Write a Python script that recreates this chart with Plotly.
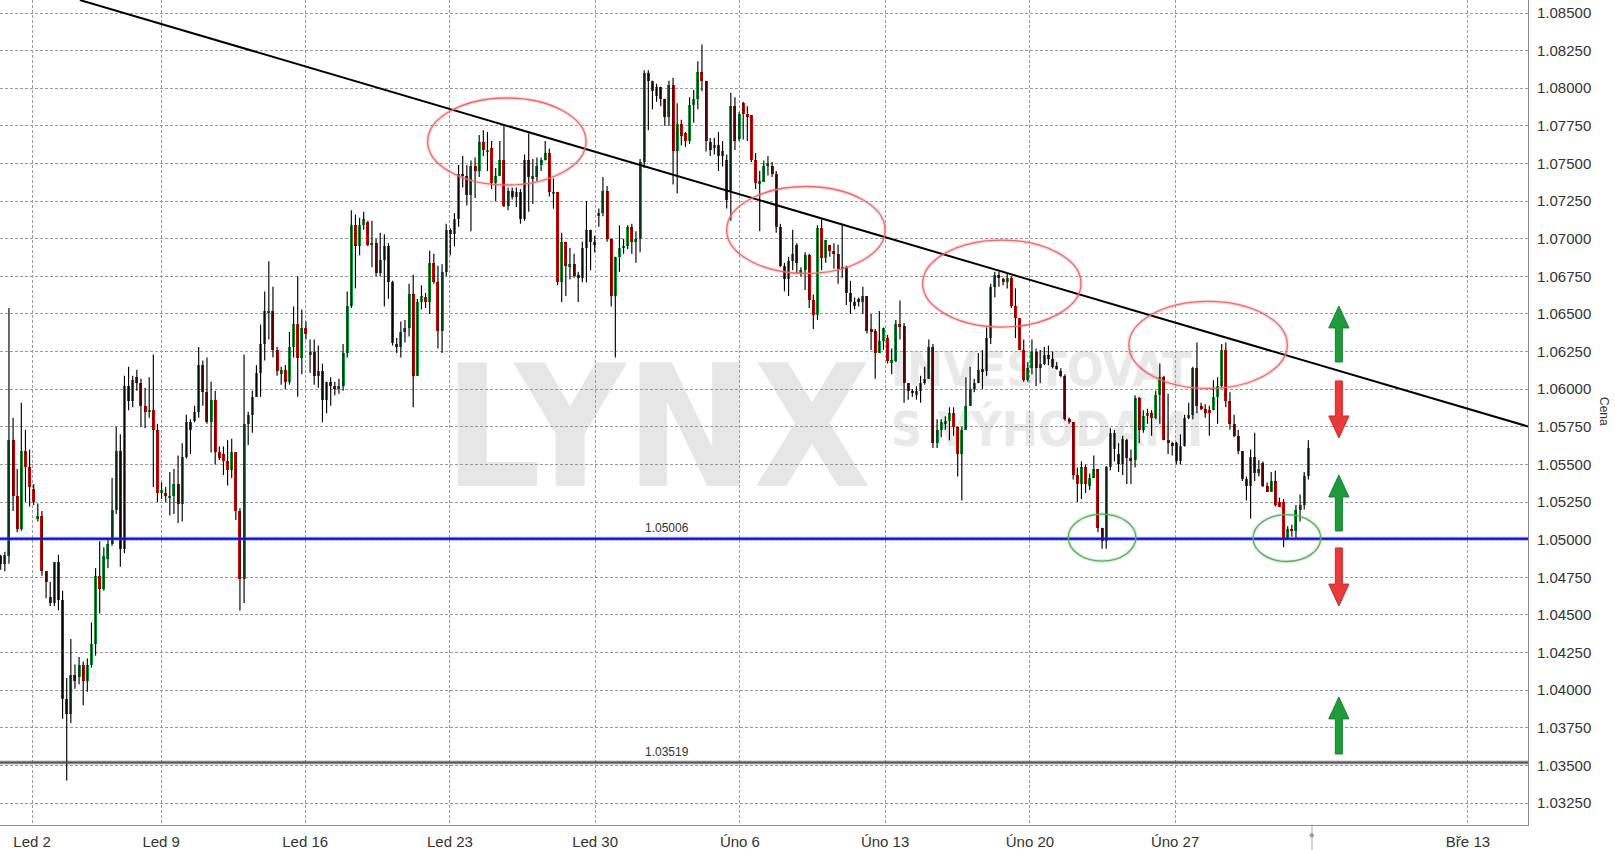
import plotly.graph_objects as go

# ---------------- data (4h EUR/USD candles) ----------------
opens = [
    1.0489, 1.0484, 1.0489, 1.0566, 1.0529, 1.0507, 1.0559, 1.0548, 1.0534, 1.0514,
    1.0516, 1.0479, 1.0462, 1.0458, 1.0485, 1.0460, 1.0394, 1.0384, 1.0410, 1.0409,
    1.0417, 1.0406, 1.0417, 1.0431, 1.0476, 1.0467, 1.0487, 1.0497, 1.0520, 1.0559,
    1.0494, 1.0602, 1.0592, 1.0608, 1.0604, 1.0589, 1.0585, 1.0586, 1.0573, 1.0531,
    1.0531, 1.0528, 1.0529, 1.0537, 1.0524, 1.0555, 1.0578, 1.0579, 1.0585, 1.0616,
    1.0598, 1.0578, 1.0593, 1.0558, 1.0557, 1.0552, 1.0546, 1.0558, 1.0519, 1.0474,
    1.0577, 1.0583, 1.0595, 1.0611, 1.0630, 1.0651, 1.0652, 1.0626, 1.0610, 1.0613,
    1.0605, 1.0628, 1.0643, 1.0621, 1.0641, 1.0623, 1.0625, 1.0609, 1.0612, 1.0593,
    1.0605, 1.0602, 1.0600, 1.0602, 1.0624, 1.0655, 1.0709, 1.0695, 1.0709, 1.0711,
    1.0696, 1.0697, 1.0677, 1.0686, 1.0695, 1.0671, 1.0630, 1.0628, 1.0638, 1.0641,
    1.0663, 1.0609, 1.0658, 1.0661, 1.0658, 1.0684, 1.0671, 1.0639, 1.0678, 1.0706,
    1.0703, 1.0713, 1.0743, 1.0742, 1.0729, 1.0748, 1.0745, 1.0764, 1.0758, 1.0760,
    1.0737, 1.0742, 1.0752, 1.0722, 1.0732, 1.0728, 1.0731, 1.0713, 1.0752, 1.0740,
    1.0741, 1.0749, 1.0752, 1.0757, 1.0730, 1.0731, 1.0671, 1.0698, 1.0681, 1.0683,
    1.0676, 1.0674, 1.0694, 1.0706, 1.0698, 1.0715, 1.0717, 1.0732, 1.0700, 1.0662,
    1.0688, 1.0694, 1.0695, 1.0708, 1.0698, 1.0700, 1.0751, 1.0810, 1.0805, 1.0795,
    1.0801, 1.0793, 1.0781, 1.0802, 1.0758, 1.0776, 1.0770, 1.0765, 1.0789, 1.0793,
    1.0811, 1.0805, 1.0764, 1.0761, 1.0762, 1.0755, 1.0752, 1.0732, 1.0788, 1.0766,
    1.0790, 1.0783, 1.0782, 1.0752, 1.0737, 1.0738, 1.0748, 1.0748, 1.0743, 1.0708,
    1.0682, 1.0673, 1.0685, 1.0696, 1.0677, 1.0679, 1.0689, 1.0659, 1.0649, 1.0707,
    1.0687, 1.0696, 1.0692, 1.0690, 1.0680, 1.0681, 1.0664, 1.0658, 1.0660, 1.0658,
    1.0662, 1.0640, 1.0639, 1.0624, 1.0632, 1.0634, 1.0618, 1.0619, 1.0643, 1.0642,
    1.0604, 1.0599, 1.0596, 1.0599, 1.0604, 1.0607, 1.0628, 1.0564, 1.0573, 1.0577,
    1.0579, 1.0584, 1.0575, 1.0557, 1.0573, 1.0589, 1.0600, 1.0604, 1.0613, 1.0612,
    1.0634, 1.0668, 1.0676, 1.0673, 1.0671, 1.0674, 1.0655, 1.0647, 1.0626, 1.0606,
    1.0614, 1.0625, 1.0614, 1.0617, 1.0623, 1.0620, 1.0615, 1.0612, 1.0609, 1.0580,
    1.0578, 1.0543, 1.0537, 1.0548, 1.0536, 1.0541, 1.0547, 1.0508, 1.0499, 1.0548,
    1.0560, 1.0557, 1.0550, 1.0566, 1.0554, 1.0553, 1.0594, 1.0573, 1.0582, 1.0584,
    1.0581, 1.0596, 1.0608, 1.0566, 1.0564, 1.0564, 1.0552, 1.0562, 1.0581, 1.0583,
    1.0614, 1.0589, 1.0587, 1.0586, 1.0586, 1.0595, 1.0602, 1.0626, 1.0592, 1.0577,
    1.0569, 1.0559, 1.0540, 1.0536, 1.0555, 1.0544, 1.0551, 1.0536, 1.0532, 1.0539,
    1.0525, 1.0525, 1.0501, 1.0507, 1.0506, 1.0520, 1.0523, 1.0542,
]
highs = [
    1.0490, 1.0492, 1.0654, 1.0581, 1.0547, 1.0591, 1.0573, 1.0560, 1.0537, 1.0524,
    1.0519, 1.0479, 1.0472, 1.0485, 1.0490, 1.0466, 1.0408, 1.0434, 1.0417, 1.0422,
    1.0419, 1.0421, 1.0445, 1.0481, 1.0499, 1.0495, 1.0501, 1.0541, 1.0575, 1.0570,
    1.0609, 1.0615, 1.0609, 1.0613, 1.0607, 1.0601, 1.0608, 1.0623, 1.0577, 1.0538,
    1.0535, 1.0545, 1.0547, 1.0556, 1.0564, 1.0583, 1.0580, 1.0589, 1.0628, 1.0619,
    1.0621, 1.0605, 1.0599, 1.0562, 1.0562, 1.0566, 1.0567, 1.0558, 1.0521, 1.0623,
    1.0585, 1.0599, 1.0616, 1.0643, 1.0665, 1.0685, 1.0668, 1.0628, 1.0615, 1.0616,
    1.0638, 1.0655, 1.0675, 1.0653, 1.0645, 1.0633, 1.0633, 1.0629, 1.0617, 1.0605,
    1.0608, 1.0605, 1.0607, 1.0630, 1.0665, 1.0719, 1.0716, 1.0714, 1.0718, 1.0712,
    1.0712, 1.0700, 1.0704, 1.0703, 1.0697, 1.0672, 1.0634, 1.0645, 1.0646, 1.0670,
    1.0676, 1.0660, 1.0669, 1.0664, 1.0692, 1.0690, 1.0682, 1.0683, 1.0710, 1.0707,
    1.0717, 1.0749, 1.0755, 1.0749, 1.0752, 1.0754, 1.0769, 1.0772, 1.0771, 1.0765,
    1.0747, 1.0765, 1.0775, 1.0734, 1.0734, 1.0734, 1.0733, 1.0756, 1.0770, 1.0753,
    1.0754, 1.0754, 1.0765, 1.0760, 1.0740, 1.0731, 1.0704, 1.0698, 1.0694, 1.0690,
    1.0678, 1.0698, 1.0725, 1.0706, 1.0702, 1.0720, 1.0741, 1.0735, 1.0700, 1.0688,
    1.0709, 1.0700, 1.0709, 1.0710, 1.0705, 1.0753, 1.0812, 1.0812, 1.0805, 1.0803,
    1.0801, 1.0793, 1.0805, 1.0807, 1.0790, 1.0779, 1.0771, 1.0794, 1.0799, 1.0818,
    1.0829, 1.0805, 1.0767, 1.0767, 1.0771, 1.0765, 1.0756, 1.0797, 1.0794, 1.0784,
    1.0791, 1.0788, 1.0782, 1.0757, 1.0745, 1.0752, 1.0755, 1.0751, 1.0745, 1.0710,
    1.0684, 1.0688, 1.0706, 1.0697, 1.0681, 1.0691, 1.0690, 1.0663, 1.0709, 1.0713,
    1.0699, 1.0696, 1.0697, 1.0696, 1.0710, 1.0682, 1.0672, 1.0661, 1.0661, 1.0668,
    1.0662, 1.0650, 1.0640, 1.0652, 1.0641, 1.0636, 1.0627, 1.0646, 1.0659, 1.0644,
    1.0604, 1.0600, 1.0602, 1.0609, 1.0615, 1.0633, 1.0630, 1.0580, 1.0580, 1.0582,
    1.0588, 1.0588, 1.0575, 1.0575, 1.0608, 1.0615, 1.0607, 1.0624, 1.0626, 1.0641,
    1.0670, 1.0678, 1.0678, 1.0674, 1.0677, 1.0675, 1.0667, 1.0647, 1.0633, 1.0618,
    1.0633, 1.0627, 1.0626, 1.0628, 1.0629, 1.0625, 1.0618, 1.0614, 1.0610, 1.0581,
    1.0578, 1.0548, 1.0552, 1.0550, 1.0544, 1.0556, 1.0547, 1.0508, 1.0549, 1.0574,
    1.0573, 1.0564, 1.0569, 1.0567, 1.0560, 1.0596, 1.0595, 1.0586, 1.0587, 1.0586,
    1.0599, 1.0617, 1.0609, 1.0597, 1.0565, 1.0565, 1.0570, 1.0583, 1.0591, 1.0615,
    1.0631, 1.0591, 1.0590, 1.0589, 1.0606, 1.0608, 1.0630, 1.0631, 1.0598, 1.0583,
    1.0573, 1.0559, 1.0542, 1.0560, 1.0571, 1.0553, 1.0552, 1.0538, 1.0545, 1.0546,
    1.0528, 1.0527, 1.0509, 1.0510, 1.0523, 1.0530, 1.0545, 1.0566,
]
lows = [
    1.0480, 1.0479, 1.0484, 1.0519, 1.0505, 1.0506, 1.0525, 1.0522, 1.0523, 1.0512,
    1.0476, 1.0461, 1.0456, 1.0456, 1.0453, 1.0381, 1.0340, 1.0378, 1.0401, 1.0404,
    1.0390, 1.0399, 1.0415, 1.0423, 1.0451, 1.0466, 1.0481, 1.0496, 1.0517, 1.0482,
    1.0491, 1.0586, 1.0588, 1.0599, 1.0575, 1.0574, 1.0581, 1.0535, 1.0525, 1.0527,
    1.0525, 1.0516, 1.0517, 1.0511, 1.0512, 1.0554, 1.0557, 1.0578, 1.0581, 1.0589,
    1.0577, 1.0558, 1.0550, 1.0553, 1.0543, 1.0536, 1.0541, 1.0513, 1.0453, 1.0458,
    1.0563, 1.0571, 1.0595, 1.0595, 1.0619, 1.0633, 1.0621, 1.0609, 1.0603, 1.0600,
    1.0603, 1.0621, 1.0595, 1.0610, 1.0633, 1.0611, 1.0603, 1.0601, 1.0578, 1.0584,
    1.0589, 1.0596, 1.0597, 1.0599, 1.0621, 1.0654, 1.0667, 1.0689, 1.0706, 1.0695,
    1.0681, 1.0675, 1.0675, 1.0655, 1.0660, 1.0629, 1.0624, 1.0621, 1.0631, 1.0635,
    1.0588, 1.0609, 1.0653, 1.0654, 1.0650, 1.0670, 1.0627, 1.0624, 1.0675, 1.0689,
    1.0695, 1.0708, 1.0734, 1.0722, 1.0705, 1.0727, 1.0741, 1.0755, 1.0745, 1.0733,
    1.0725, 1.0742, 1.0721, 1.0719, 1.0726, 1.0721, 1.0710, 1.0712, 1.0718, 1.0723,
    1.0738, 1.0745, 1.0752, 1.0728, 1.0720, 1.0669, 1.0658, 1.0662, 1.0673, 1.0674,
    1.0658, 1.0671, 1.0671, 1.0679, 1.0691, 1.0708, 1.0715, 1.0698, 1.0655, 1.0621,
    1.0678, 1.0690, 1.0693, 1.0690, 1.0684, 1.0691, 1.0747, 1.0772, 1.0786, 1.0791,
    1.0788, 1.0775, 1.0775, 1.0736, 1.0730, 1.0762, 1.0761, 1.0763, 1.0777, 1.0786,
    1.0798, 1.0758, 1.0755, 1.0756, 1.0745, 1.0748, 1.0720, 1.0712, 1.0759, 1.0765,
    1.0766, 1.0765, 1.0751, 1.0733, 1.0705, 1.0738, 1.0742, 1.0741, 1.0704, 1.0681,
    1.0665, 1.0662, 1.0679, 1.0677, 1.0675, 1.0666, 1.0654, 1.0640, 1.0646, 1.0679,
    1.0684, 1.0688, 1.0680, 1.0670, 1.0674, 1.0656, 1.0650, 1.0653, 1.0655, 1.0650,
    1.0637, 1.0626, 1.0607, 1.0624, 1.0626, 1.0617, 1.0610, 1.0618, 1.0633, 1.0591,
    1.0593, 1.0595, 1.0593, 1.0591, 1.0603, 1.0607, 1.0561, 1.0561, 1.0568, 1.0573,
    1.0566, 1.0569, 1.0542, 1.0526, 1.0573, 1.0589, 1.0598, 1.0604, 1.0600, 1.0609,
    1.0630, 1.0661, 1.0668, 1.0669, 1.0667, 1.0654, 1.0634, 1.0626, 1.0605, 1.0605,
    1.0610, 1.0602, 1.0604, 1.0616, 1.0616, 1.0614, 1.0613, 1.0608, 1.0579, 1.0577,
    1.0540, 1.0525, 1.0527, 1.0531, 1.0533, 1.0541, 1.0505, 1.0494, 1.0494, 1.0546,
    1.0552, 1.0545, 1.0543, 1.0537, 1.0537, 1.0548, 1.0564, 1.0571, 1.0577, 1.0569,
    1.0580, 1.0577, 1.0566, 1.0557, 1.0556, 1.0550, 1.0550, 1.0562, 1.0580, 1.0580,
    1.0584, 1.0586, 1.0581, 1.0569, 1.0586, 1.0577, 1.0601, 1.0588, 1.0573, 1.0568,
    1.0557, 1.0539, 1.0526, 1.0514, 1.0539, 1.0542, 1.0535, 1.0532, 1.0532, 1.0522,
    1.0522, 1.0495, 1.0500, 1.0502, 1.0501, 1.0512, 1.0520, 1.0540,
]
closes = [
    1.0484, 1.0490, 1.0566, 1.0529, 1.0507, 1.0559, 1.0548, 1.0535, 1.0525, 1.0516,
    1.0479, 1.0472, 1.0458, 1.0485, 1.0460, 1.0394, 1.0384, 1.0410, 1.0406, 1.0417,
    1.0406, 1.0417, 1.0431, 1.0476, 1.0467, 1.0489, 1.0497, 1.0520, 1.0559, 1.0494,
    1.0602, 1.0592, 1.0606, 1.0604, 1.0589, 1.0585, 1.0586, 1.0573, 1.0531, 1.0533,
    1.0529, 1.0529, 1.0537, 1.0524, 1.0555, 1.0578, 1.0573, 1.0585, 1.0616, 1.0598,
    1.0578, 1.0593, 1.0558, 1.0554, 1.0552, 1.0546, 1.0558, 1.0519, 1.0474, 1.0577,
    1.0583, 1.0595, 1.0611, 1.0630, 1.0652, 1.0652, 1.0626, 1.0612, 1.0613, 1.0605,
    1.0628, 1.0643, 1.0621, 1.0641, 1.0637, 1.0625, 1.0609, 1.0612, 1.0593, 1.0605,
    1.0602, 1.0600, 1.0602, 1.0624, 1.0655, 1.0709, 1.0695, 1.0709, 1.0713, 1.0696,
    1.0697, 1.0677, 1.0686, 1.0695, 1.0671, 1.0631, 1.0628, 1.0638, 1.0641, 1.0663,
    1.0609, 1.0658, 1.0662, 1.0658, 1.0684, 1.0671, 1.0639, 1.0678, 1.0706, 1.0703,
    1.0713, 1.0743, 1.0742, 1.0729, 1.0748, 1.0745, 1.0764, 1.0759, 1.0759, 1.0737,
    1.0742, 1.0752, 1.0722, 1.0732, 1.0728, 1.0731, 1.0713, 1.0752, 1.0741, 1.0742,
    1.0748, 1.0752, 1.0757, 1.0731, 1.0731, 1.0671, 1.0698, 1.0682, 1.0683, 1.0675,
    1.0674, 1.0694, 1.0706, 1.0698, 1.0696, 1.0717, 1.0732, 1.0700, 1.0662, 1.0688,
    1.0694, 1.0695, 1.0708, 1.0698, 1.0700, 1.0751, 1.0810, 1.0805, 1.0798, 1.0801,
    1.0793, 1.0781, 1.0802, 1.0758, 1.0776, 1.0768, 1.0765, 1.0789, 1.0793, 1.0811,
    1.0805, 1.0765, 1.0759, 1.0762, 1.0755, 1.0758, 1.0726, 1.0788, 1.0765, 1.0783,
    1.0783, 1.0781, 1.0752, 1.0737, 1.0738, 1.0748, 1.0750, 1.0743, 1.0708, 1.0682,
    1.0673, 1.0685, 1.0690, 1.0684, 1.0679, 1.0689, 1.0659, 1.0649, 1.0707, 1.0687,
    1.0699, 1.0692, 1.0690, 1.0680, 1.0681, 1.0664, 1.0658, 1.0655, 1.0658, 1.0662,
    1.0639, 1.0638, 1.0624, 1.0632, 1.0641, 1.0619, 1.0619, 1.0643, 1.0642, 1.0604,
    1.0599, 1.0598, 1.0599, 1.0604, 1.0607, 1.0628, 1.0564, 1.0573, 1.0578, 1.0579,
    1.0584, 1.0575, 1.0557, 1.0573, 1.0589, 1.0600, 1.0604, 1.0613, 1.0612, 1.0634,
    1.0668, 1.0676, 1.0674, 1.0671, 1.0674, 1.0655, 1.0647, 1.0626, 1.0606, 1.0614,
    1.0625, 1.0614, 1.0617, 1.0623, 1.0620, 1.0615, 1.0614, 1.0609, 1.0580, 1.0578,
    1.0543, 1.0537, 1.0548, 1.0537, 1.0541, 1.0547, 1.0508, 1.0499, 1.0548, 1.0571,
    1.0571, 1.0550, 1.0567, 1.0554, 1.0553, 1.0594, 1.0573, 1.0582, 1.0584, 1.0581,
    1.0596, 1.0608, 1.0566, 1.0565, 1.0563, 1.0552, 1.0562, 1.0581, 1.0583, 1.0614,
    1.0589, 1.0587, 1.0584, 1.0584, 1.0595, 1.0602, 1.0626, 1.0592, 1.0577, 1.0569,
    1.0559, 1.0540, 1.0536, 1.0555, 1.0544, 1.0547, 1.0536, 1.0532, 1.0539, 1.0523,
    1.0522, 1.0501, 1.0507, 1.0506, 1.0520, 1.0523, 1.0542, 1.0561,
]

# x-axis labels (positions in candle-index units)
tick_labels = ["Led 2", "Led 9", "Led 16", "Led 23", "Led 30", "Úno 6",
               "Úno 13", "Úno 20", "Úno 27", "Bře 13"]
tick_positions = [7.6, 38.9, 73.8, 108.9, 144.1, 179.2, 214.4, 249.5, 284.7, 355.7]

# horizontal levels
support_levels = [1.05006, 1.03519]
support_labels = ["1.05006", "1.03519"]

# descending trend line (two anchor points: candle index, price)
trend_x = [19.2, 370.3]
trend_y = [1.08586, 1.05752]

# highlighted areas (centre index, centre price)
resist_centres_x = [122.7, 195.2, 242.7, 292.7]
resist_centres_y = [1.07646, 1.07058, 1.06702, 1.06294]
support_centres_x = [267.0, 311.8]
support_centres_y = [1.05014, 1.05011]

# direction arrows at the right (tail price, tip price)
arrow_tails = [1.06181, 1.06055, 1.05058, 1.04945, 1.03576]
arrow_tips = [1.06553, 1.05676, 1.05430, 1.04559, 1.03955]
arrow_index = 324.4

# ---------------- geometry / style ----------------
W, H = 1615, 850
ML, MR, MT, MB = 0, 87, 0, 25
PW, PH = W - ML - MR, H - MT - MB
X_MIN = -0.17
X_MAX = X_MIN + PW / 4.125
Y_MIN, Y_MAX = 1.031039, 1.085864

GREEN = "#07a03c"
RED = "#dc0000"
FONT = "Liberation Sans, Arial, sans-serif"


def px(xpix):
    return xpix / PW


def py(ypix):
    return 1 - ypix / PH


n = len(opens)
idx = list(range(n))

fig = go.Figure()

# wicks
wx, wy = [], []
for i in idx:
    lo = min(lows[i], opens[i], closes[i])
    hi = max(highs[i], opens[i], closes[i])
    wx += [i, i, None]
    wy += [lo, hi, None]
fig.add_trace(go.Scatter(x=wx, y=wy, mode="lines",
                         line=dict(color="#000000", width=1.15),
                         hoverinfo="skip", showlegend=False))

# bodies
bases, heights, colors = [], [], []
for i in idx:
    o, c = opens[i], closes[i]
    lo, hi = min(o, c), max(o, c)
    h = max(hi - lo, 0.00012)
    bases.append((lo + hi) / 2 - h / 2)
    heights.append(h)
    colors.append(GREEN if c >= o else RED)
fig.add_trace(go.Bar(x=idx, y=heights, base=bases, width=0.74,
                     marker=dict(color=colors, line=dict(width=0)),
                     hoverinfo="skip", showlegend=False))

# support / historic levels
level_styles = [("rgba(60,60,255,0.45)", "#1010c8"), ("rgba(0,0,0,0.25)", "#555555")]
for lvl, (halo, col) in zip(support_levels, level_styles):
    fig.add_trace(go.Scatter(x=[X_MIN, X_MAX], y=[lvl, lvl], mode="lines",
                             line=dict(color=halo, width=4), hoverinfo="skip",
                             showlegend=False))
    fig.add_trace(go.Scatter(x=[X_MIN, X_MAX], y=[lvl, lvl], mode="lines",
                             line=dict(color=col, width=2), hoverinfo="skip",
                             showlegend=False))

# trend line
fig.add_trace(go.Scatter(x=trend_x, y=trend_y, mode="lines",
                         line=dict(color="#000000", width=2),
                         hoverinfo="skip", showlegend=False))

# arrows
HEAD_LEN = 0.00146
HEAD_HW = 2.45
SHAFT_HW = 0.85
for tail, tip in zip(arrow_tails, arrow_tips):
    d = 1 if tip > tail else -1
    neck = tip - d * HEAD_LEN
    c = arrow_index
    xs = [c - SHAFT_HW, c - SHAFT_HW, c - HEAD_HW, c, c + HEAD_HW, c + SHAFT_HW, c + SHAFT_HW, c - SHAFT_HW]
    ys = [tail, neck, neck, tip, neck, neck, tail, tail]
    col = "#1f9a3c" if d > 0 else "#e8393b"
    edge = "#178030" if d > 0 else "#c92a2c"
    fig.add_trace(go.Scatter(x=xs, y=ys, mode="lines", fill="toself",
                             fillcolor=col, line=dict(color=edge, width=1),
                             hoverinfo="skip", showlegend=False))

shapes = []
# ellipses
RX_R, RY_R = 19.2, 0.00289
for cx, cy in zip(resist_centres_x, resist_centres_y):
    for colr, wdt in (("rgba(240,90,90,0.22)", 3.5), ("#f06a6a", 1.3)):
        shapes.append(dict(type="circle", xref="x", yref="y",
                           x0=cx - RX_R, x1=cx + RX_R, y0=cy - RY_R, y1=cy + RY_R,
                           line=dict(color=colr, width=wdt), layer="above"))
RX_S, RY_S = 8.2, 0.00156
for cx, cy in zip(support_centres_x, support_centres_y):
    for colr, wdt in (("rgba(80,170,80,0.22)", 3.5), ("#55b055", 1.3)):
        shapes.append(dict(type="circle", xref="x", yref="y",
                           x0=cx - RX_S, x1=cx + RX_S, y0=cy - RY_S, y1=cy + RY_S,
                           line=dict(color=colr, width=wdt), layer="above"))

# watermark (drawn below the grid)
WM_FONT = "Liberation Sans Narrow, DejaVu Sans Condensed, Arial Narrow, sans-serif"
shapes.append(dict(type="rect", xref="paper", yref="paper",
                   x0=px(430), x1=px(885), y0=py(507), y1=py(323),
                   line=dict(width=0), fillcolor="rgba(0,0,0,0)", layer="below",
                   label=dict(text="LYNX", textposition="middle center",
                              font=dict(family=WM_FONT, size=170, color="#e6e6e6", weight=700))))
shapes.append(dict(type="rect", xref="paper", yref="paper",
                   x0=px(885), x1=px(1250), y0=py(390), y1=py(342),
                   line=dict(width=0), fillcolor="rgba(0,0,0,0)", layer="below",
                   label=dict(text="INVESTOVAT", textposition="middle left",
                              font=dict(family=WM_FONT, size=48, color="#e9e9e9", weight=700))))
shapes.append(dict(type="rect", xref="paper", yref="paper",
                   x0=px(885), x1=px(1250), y0=py(450), y1=py(402),
                   line=dict(width=0), fillcolor="rgba(0,0,0,0)", layer="below",
                   label=dict(text="S VÝHODAMI", textposition="middle left",
                              font=dict(family=WM_FONT, size=48, color="#e9e9e9", weight=700))))

# small "now" marker under axis
shapes.append(dict(type="line", xref="paper", yref="paper",
                   x0=px(1312), x1=px(1312), y0=py(826), y1=py(850),
                   line=dict(color="#aaaaaa", width=1)))

annotations = []
for lvl, lab in zip(support_levels, support_labels):
    annotations.append(dict(x=161.5, y=lvl, xref="x", yref="y", text=lab,
                            showarrow=False, yanchor="bottom", yshift=2,
                            font=dict(family=FONT, size=12, color="#333333")))
annotations.append(dict(x=px(1317), y=py(840), xref="paper", yref="paper", text="◆",
                        showarrow=False, font=dict(family=FONT, size=7, color="#9a9a9a")))
annotations.append(dict(x=px(1613), y=py(411), xref="paper", yref="paper", text="Cena",
                        textangle=90, showarrow=False,
                        font=dict(family=FONT, size=12, color="#333333")))

fig.update_layout(
    width=W, height=H,
    margin=dict(l=ML, r=MR, t=MT, b=MB, pad=0),
    paper_bgcolor="#ffffff", plot_bgcolor="#ffffff",
    showlegend=False, bargap=0,
    hovermode=False,
    font=dict(family=FONT, size=15, color="#333333"),
    shapes=shapes, annotations=annotations,
)
fig.update_xaxes(
    range=[X_MIN, X_MAX], tickmode="array", tickvals=tick_positions, ticktext=tick_labels,
    showgrid=True, gridcolor="#9a9a9a", gridwidth=1, griddash="3px,2px",
    showline=True, linecolor="#8c8c8c", linewidth=1, ticks="", zeroline=False,
    ticklabelstandoff=3,
    tickfont=dict(family=FONT, size=15, color="#333333"), automargin=False,
)
fig.update_yaxes(
    range=[Y_MIN, Y_MAX], side="right", tick0=1.0, dtick=0.0025, tickformat=".5f",
    showgrid=True, gridcolor="#9a9a9a", gridwidth=1, griddash="3px,2px",
    showline=True, linecolor="#8c8c8c", linewidth=1, ticks="", zeroline=False,
    ticklabelstandoff=5,
    tickfont=dict(family=FONT, size=15, color="#333333"), automargin=False,
)

fig.write_html("out.html", config={"displayModeBar": False},
               post_script="document.body.style.margin='0px';document.body.style.overflow='hidden';")
